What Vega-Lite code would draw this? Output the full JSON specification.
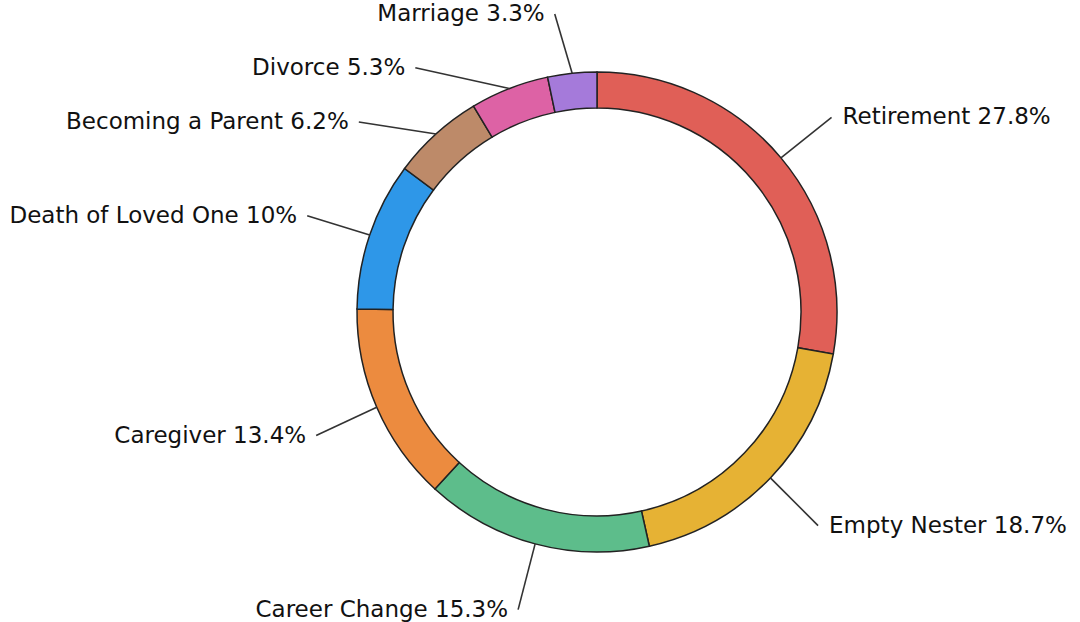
{
  "$schema": "https://vega.github.io/schema/vega-lite/v6.json",
  "autosize": {"type": "none"},
  "padding": {"left": 114, "top": 2, "right": 0, "bottom": 0},
  "width": 966,
  "height": 620,
  "background": "white",
  "config": {"view": {"stroke": null}},
  "data": {
    "values": [
      {"category": "Retirement", "value": 27.8},
      {"category": "Empty Nester", "value": 18.7},
      {"category": "Career Change", "value": 15.3},
      {"category": "Caregiver", "value": 13.4},
      {"category": "Death of Loved One", "value": 10},
      {"category": "Becoming a Parent", "value": 6.2},
      {"category": "Divorce", "value": 5.3},
      {"category": "Marriage", "value": 3.3}
    ]
  },
  "transform": [
    {"window": [{"op": "sum", "field": "value", "as": "cum"}, {"op": "row_number", "as": "rank"}], "frame": [null, 0]},
    {"calculate": "(datum.cum - datum.value / 2) * 3.6", "as": "mid"},
    {"calculate": "datum.mid + (datum.category === 'Divorce' ? -15 : datum.category === 'Becoming a Parent' ? -9 : datum.category === 'Marriage' ? -2 : 0)", "as": "lab"},
    {"calculate": "240 * sin(datum.mid * PI / 180)", "as": "x1"},
    {"calculate": "240 * cos(datum.mid * PI / 180)", "as": "y1"},
    {"calculate": "306 * sin(datum.lab * PI / 180)", "as": "x2"},
    {"calculate": "min(306 * cos(datum.lab * PI / 180) - 2, 298)", "as": "y2"},
    {"calculate": "datum.category + ' ' + datum.value + '%'", "as": "label"}
  ],
  "layer": [
    {
      "mark": {"type": "arc", "outerRadius": 240, "innerRadius": 204, "stroke": "#222222", "strokeWidth": 1.5},
      "encoding": {
        "theta": {"field": "value", "type": "quantitative", "stack": true},
        "order": {"field": "rank", "type": "quantitative"},
        "color": {
          "field": "category",
          "type": "nominal",
          "legend": null,
          "scale": {
            "domain": ["Retirement", "Empty Nester", "Career Change", "Caregiver", "Death of Loved One", "Becoming a Parent", "Divorce", "Marriage"],
            "range": ["#E05F57", "#E6B234", "#5DBD8B", "#EC8B3F", "#2E97E8", "#BD8A69", "#DD62A5", "#A57ADA"]
          }
        }
      }
    },
    {
      "mark": {"type": "rule", "color": "#333333", "strokeWidth": 1.6},
      "encoding": {
        "x": {"field": "x1", "type": "quantitative", "scale": {"domain": [-483, 483], "nice": false, "zero": false}, "axis": null},
        "y": {"field": "y1", "type": "quantitative", "scale": {"domain": [-310, 310], "nice": false, "zero": false}, "axis": null},
        "x2": {"field": "x2"},
        "y2": {"field": "y2"}
      }
    },
    {
      "transform": [{"filter": "datum.x2 > 0"}],
      "mark": {"type": "text", "align": "left", "baseline": "middle", "dx": 11, "font": "DejaVu Sans", "fontSize": 23, "color": "#111111"},
      "encoding": {
        "x": {"field": "x2", "type": "quantitative", "scale": {"domain": [-483, 483], "nice": false, "zero": false}, "axis": null},
        "y": {"field": "y2", "type": "quantitative", "scale": {"domain": [-310, 310], "nice": false, "zero": false}, "axis": null},
        "text": {"field": "label"}
      }
    },
    {
      "transform": [{"filter": "datum.x2 <= 0"}],
      "mark": {"type": "text", "align": "right", "baseline": "middle", "dx": -10, "font": "DejaVu Sans", "fontSize": 23, "color": "#111111"},
      "encoding": {
        "x": {"field": "x2", "type": "quantitative", "scale": {"domain": [-483, 483], "nice": false, "zero": false}, "axis": null},
        "y": {"field": "y2", "type": "quantitative", "scale": {"domain": [-310, 310], "nice": false, "zero": false}, "axis": null},
        "text": {"field": "label"}
      }
    }
  ]
}
